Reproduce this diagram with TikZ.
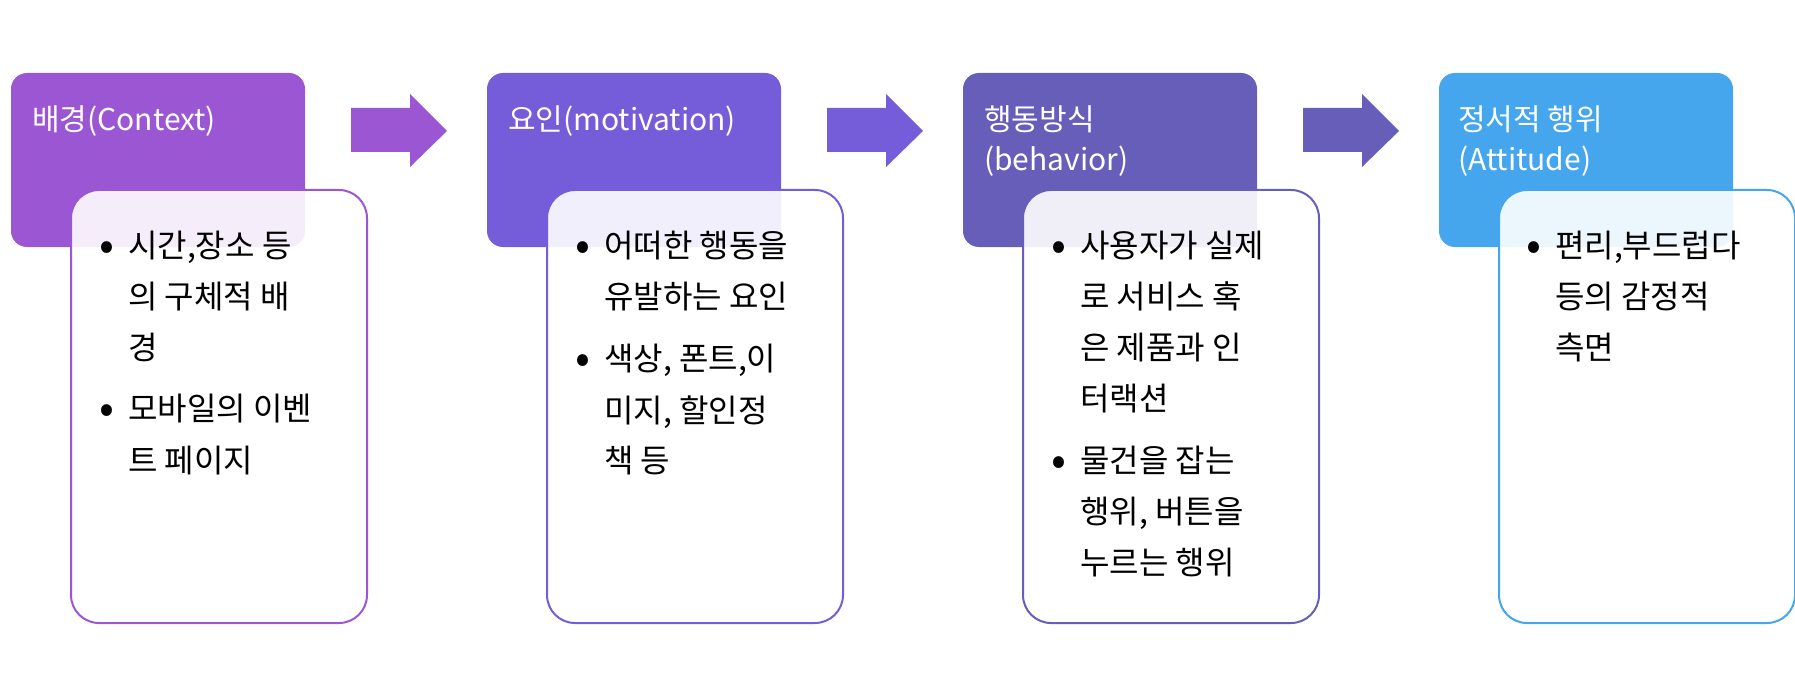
\documentclass[tikz,border=0pt]{standalone}
\usepackage{fontspec}
\setmainfont{Noto Sans CJK KR}
\definecolor{cA}{HTML}{9B57D3}
\definecolor{cB}{HTML}{755DD9}
\definecolor{cC}{HTML}{665EB8}
\definecolor{cD}{HTML}{45A5ED}
\begin{document}
\begin{tikzpicture}[x=1pt,y=-1pt,
  topbox/.style={rounded corners=16pt,minimum width=294pt,minimum height=174pt,inner sep=0pt,fill=#1},
  botbox/.style={rounded corners=28pt,minimum width=296pt,minimum height=433pt,inner sep=0pt,draw=#1,line width=2pt,fill=white,fill opacity=0.9},
  ttl/.style={anchor=base west,inner sep=0pt,text=white,font=\fontsize{30}{36}\selectfont},
  bl/.style={anchor=base west,inner sep=0pt,font=\fontsize{32}{38}\selectfont},
  bul/.style={anchor=base,inner sep=0pt,font=\fontsize{44}{48}\selectfont}]
\useasboundingbox (0,0) rectangle (1795,695);
% column 1
\node[topbox=cA] (t1) at (158,160) {};
\node[botbox=cA] (b1) at (219,406.5) {};
\node[ttl] (t1a) at (32,131) {배경(Context)};
\node[bul] (u1a) at (107,260) {•};
\node[bl] (l1a) at (128,257) {시간,장소 등};
\node[bl] (l1b) at (128,308) {의 구체적 배};
\node[bl] (l1c) at (128,359) {경};
\node[bul] (u1b) at (107,423) {•};
\node[bl] (l1d) at (128,420) {모바일의 이벤};
\node[bl] (l1e) at (128,472) {트 페이지};
% column 2
\node[topbox=cB] (t2) at (634,160) {};
\node[botbox=cB] (b2) at (695,406.5) {};
\node[ttl] (t2a) at (508,131) {요인(motivation)};
\node[bul] (u2a) at (583,260) {•};
\node[bl] (l2a) at (604,257) {어떠한 행동을};
\node[bl] (l2b) at (604,308) {유발하는 요인};
\node[bul] (u2b) at (583,373) {•};
\node[bl] (l2c) at (604,370) {색상, 폰트,이};
\node[bl] (l2d) at (604,422) {미지, 할인정};
\node[bl] (l2e) at (604,472) {책 등};
% column 3
\node[topbox=cC] (t3) at (1110,160) {};
\node[botbox=cC] (b3) at (1171,406.5) {};
\node[ttl] (t3a) at (984,131) {행동방식};
\node[ttl] (t3b) at (984,171) {(behavior)};
\node[bul] (u3a) at (1059,260) {•};
\node[bl] (l3a) at (1080,257) {사용자가 실제};
\node[bl] (l3b) at (1080,308) {로 서비스 혹};
\node[bl] (l3c) at (1080,359) {은 제품과 인};
\node[bl] (l3d) at (1080,410) {터랙션};
\node[bul] (u3b) at (1059,475) {•};
\node[bl] (l3e) at (1080,472) {물건을 잡는};
\node[bl] (l3f) at (1080,523) {행위, 버튼을};
\node[bl] (l3g) at (1080,574) {누르는 행위};
% column 4
\node[topbox=cD] (t4) at (1586,160) {};
\node[botbox=cD] (b4) at (1647,406.5) {};
\node[ttl] (t4a) at (1458,131) {정서적 행위};
\node[ttl] (t4b) at (1458,171) {(Attitude)};
\node[bul] (u4a) at (1534,260) {•};
\node[bl] (l4a) at (1555,257) {편리,부드럽다};
\node[bl] (l4b) at (1555,308) {등의 감정적};
\node[bl] (l4c) at (1555,359) {측면};
% arrows
\fill[cA] (351,108) -- (410,108) -- (410,94) -- (447,131) -- (410,167) -- (410,152) -- (351,152) -- cycle;
\fill[cB] (827,108) -- (886,108) -- (886,94) -- (923,131) -- (886,167) -- (886,152) -- (827,152) -- cycle;
\fill[cC] (1303,108) -- (1362,108) -- (1362,94) -- (1399,131) -- (1362,167) -- (1362,152) -- (1303,152) -- cycle;
\end{tikzpicture}
\end{document}
